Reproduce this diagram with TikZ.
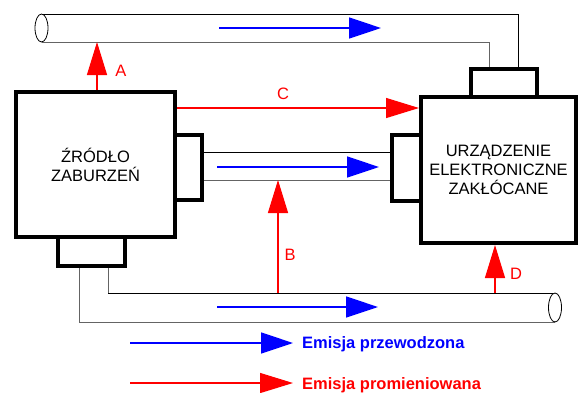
\documentclass[tikz,border=0pt]{standalone}
\usepackage{fontspec}
\setmainfont{Liberation Sans}
\usetikzlibrary{arrows.meta}
\definecolor{pred}{RGB}{255,0,0}
\definecolor{pblue}{RGB}{0,0,255}
\definecolor{wgray}{RGB}{100,100,100}
\tikzset{
  box/.style={draw, line width=4pt, fill=white, inner sep=0pt, align=center,
    font=\fontsize{16.5}{19}\selectfont},
  plug/.style={draw, line width=3.5pt, fill=white, inner sep=0pt},
  wire/.style={line width=1pt, black},
  wiregray/.style={line width=1pt, wgray},
  cableend/.style={line width=0.8pt, black},
  bluearrow/.style={pblue, line width=1.6pt, -{Triangle[length=32pt,width=21pt]}},
  redarrow/.style={pred, line width=1.3pt, -{Triangle[length=33pt,width=20pt]}},
  lbl/.style={pred, inner sep=0pt, font=\fontsize{16.5}{19}\selectfont},
  legend/.style={inner sep=0pt, anchor=base west, font=\bfseries\fontsize{16.5}{19}\selectfont},
}
\begin{document}
\begin{tikzpicture}[x=1pt,y=-1pt]
\useasboundingbox (0,0) rectangle (580,392);

% connectors (plugs)
\node[plug, minimum width=27pt, minimum height=65pt] (srcR) at (188.5,167.5) {};
\node[plug, minimum width=67pt, minimum height=29pt] (srcB) at (91.5,251.5) {};
\node[plug, minimum width=66pt, minimum height=28pt] (dstT) at (504,83) {};
\node[plug, minimum width=29pt, minimum height=66pt] (dstL) at (406.5,168) {};

% boxes
\node[box, minimum width=159pt, minimum height=145pt] (src) at (95.5,164.5)
  {ŹRÓDŁO\\ZABURZEŃ};
\node[box, minimum width=155pt, minimum height=146pt] (dst) at (498.5,170)
  {URZĄDZENIE\\ELEKTRONICZNE\\ZAKŁÓCANE};

% top cable
\coordinate (tL1) at (41.5,14);
\coordinate (tL2) at (41.5,42);
\coordinate (tR1) at (518,14);
\coordinate (tR2) at (489,42);
\draw[wire] (tL1) -- (tR1) -- (tR1 |- dstT.north);
\draw[wiregray] (tL2) -- (tR2) -- (tR2 |- dstT.north);
\draw[cableend] (41.5,28) ellipse [x radius=6.5, y radius=14];

% middle cable
\coordinate (mT) at (300,152);
\coordinate (mB) at (300,180);
\draw[wire] (srcR.east |- mT) -- (dstL.west |- mT);
\draw[wiregray] (srcR.east |- mB) -- (dstL.west |- mB);

% bottom cable
\coordinate (bI) at (108,293);
\coordinate (bO) at (79,322);
\coordinate (bIe) at (555,293);
\coordinate (bOe) at (555,322);
\draw[wiregray] (bI |- srcB.south) -- (bI) -- (bIe);
\draw[wiregray] (bO |- srcB.south) -- (bO) -- (bOe);
\draw[wire] (bI) -- (bIe);
\draw[cableend, fill=white] (555,307.5) ellipse [x radius=6.5, y radius=14.5];

% conducted emission arrows
\coordinate (a1s) at (219,28);  \coordinate (a1e) at (381,28);
\coordinate (a2s) at (217,167); \coordinate (a2e) at (379,167);
\coordinate (a3s) at (217,307); \coordinate (a3e) at (378,307);
\draw[bluearrow] (a1s) -- (a1e);
\draw[bluearrow] (a2s) -- (a2e);
\draw[bluearrow] (a3s) -- (a3e);

% radiated emission arrows
\coordinate (pA) at (97,42);
\coordinate (pC) at (300,108);
\coordinate (pB) at (278,180);
\coordinate (pD) at (495,293);
\draw[redarrow] (src.north -| pA) -- (pA);
\draw[redarrow] (src.east |- pC) -- (dst.west |- pC);
\draw[redarrow] (bI -| pB) -- (pB);
\draw[redarrow] (pD) -- (dst.south -| pD);

\node[lbl] (lA) at (121,71) {A};
\node[lbl] (lB) at (290,255) {B};
\node[lbl] (lC) at (283,94) {C};
\node[lbl] (lD) at (516,274) {D};

% legend
\coordinate (g1s) at (130,343); \coordinate (g1e) at (293,343);
\coordinate (g2s) at (130,383); \coordinate (g2e) at (293,383);
\draw[bluearrow] (g1s) -- (g1e);
\draw[redarrow] (g2s) -- (g2e);
\node[legend, pblue] (t1) at (302,348.5) {Emisja przewodzona};
\node[legend, pred] (t2) at (302,389) {Emisja promieniowana};
\end{tikzpicture}
\end{document}
